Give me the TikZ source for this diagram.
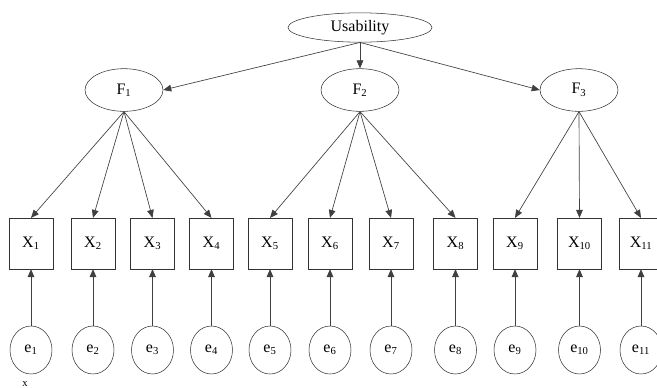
\documentclass[tikz,border=0pt]{standalone}
\usepackage{fontspec}
\setmainfont{Liberation Serif}
\usetikzlibrary{shapes.geometric,arrows.meta}

\tikzset{
  latent/.style={draw=black!80, ellipse, inner sep=0pt, font=\fontsize{12}{14}\selectfont},
  factor/.style={latent, minimum width=58.5pt, minimum height=32pt},
  errvar/.style={latent, minimum width=31.5pt, minimum height=36pt},
  item/.style={draw=black!80, rectangle, inner sep=0pt, minimum width=33pt, minimum height=38pt, font=\fontsize{12}{14}\selectfont},
  path/.style={draw=black!75, line width=0.5pt, -{Triangle[length=6pt,width=5pt]}}
}

\begin{document}
\begin{tikzpicture}[x=0.75pt,y=0.75pt,yscale=-1]

\useasboundingbox (0,0) rectangle (657,387);

% second order factor
\node [latent, minimum width=108pt, minimum height=22pt] (usab) at (360,27.5) {Usability};

% first order factors
\node [factor] (f1) at (124,90) {F\textsubscript{1}};
\node [factor] (f2) at (360,90) {F\textsubscript{2}};
\node [factor] (f3) at (579,90) {F\textsubscript{3}};

% observed items
\node [item] (x1) at (31,243.5) {X\textsubscript{1}};
\node [item] (x2) at (93,243.5) {X\textsubscript{2}};
\node [item] (x3) at (152.5,243.5) {X\textsubscript{3}};
\node [item] (x4) at (211.5,243.5) {X\textsubscript{4}};
\node [item] (x5) at (270,243.5) {X\textsubscript{5}};
\node [item] (x6) at (330,243.5) {X\textsubscript{6}};
\node [item] (x7) at (391,243.5) {X\textsubscript{7}};
\node [item] (x8) at (455.5,243.5) {X\textsubscript{8}};
\node [item] (x9) at (515,243.5) {X\textsubscript{9}};
\node [item] (x10) at (579.5,243.5) {X\textsubscript{10}};
\node [item] (x11) at (641,243.5) {X\textsubscript{11}};

% error terms
\node [errvar] (e1) at (31,350) {e\textsubscript{1}};
\node [errvar] (e2) at (93,350) {e\textsubscript{2}};
\node [errvar] (e3) at (152.5,350) {e\textsubscript{3}};
\node [errvar] (e4) at (211.5,350) {e\textsubscript{4}};
\node [errvar] (e5) at (270,350) {e\textsubscript{5}};
\node [errvar] (e6) at (330,350) {e\textsubscript{6}};
\node [errvar] (e7) at (391,350) {e\textsubscript{7}};
\node [errvar] (e8) at (455.5,350) {e\textsubscript{8}};
\node [errvar] (e9) at (515,350) {e\textsubscript{9}};
\node [errvar] (e10) at (579.5,350) {e\textsubscript{10}};
\node [errvar] (e11) at (641,350) {e\textsubscript{11}};

\node [inner sep=0pt, font=\fontsize{8}{8}\selectfont] (xnote) at (25,384) {x};

% usability -> factors
\draw [path] (usab.south) -- (f1.east);
\draw [path] (usab.south) -- (f2.north);
\draw [path] (usab.south) -- (f3.west);

% factor loadings
\draw [path] (f1.south) -- (x1.north);
\draw [path] (f1.south) -- (x2.north);
\draw [path] (f1.south) -- (x3.north);
\draw [path] (f1.south) -- (x4.north);
\draw [path] (f2.south) -- (x5.north);
\draw [path] (f2.south) -- (x6.north);
\draw [path] (f2.south) -- (x7.north);
\draw [path] (f2.south) -- (x8.north);
\draw [path] (f3.south) -- (x9.north);
\draw [path] (f3.south) -- (x10.north);
\draw [path] (f3.south) -- (x11.north);

% errors
\draw [path] (e1.north) -- (x1.south);
\draw [path] (e2.north) -- (x2.south);
\draw [path] (e3.north) -- (x3.south);
\draw [path] (e4.north) -- (x4.south);
\draw [path] (e5.north) -- (x5.south);
\draw [path] (e6.north) -- (x6.south);
\draw [path] (e7.north) -- (x7.south);
\draw [path] (e8.north) -- (x8.south);
\draw [path] (e9.north) -- (x9.south);
\draw [path] (e10.north) -- (x10.south);
\draw [path] (e11.north) -- (x11.south);

\end{tikzpicture}
\end{document}
